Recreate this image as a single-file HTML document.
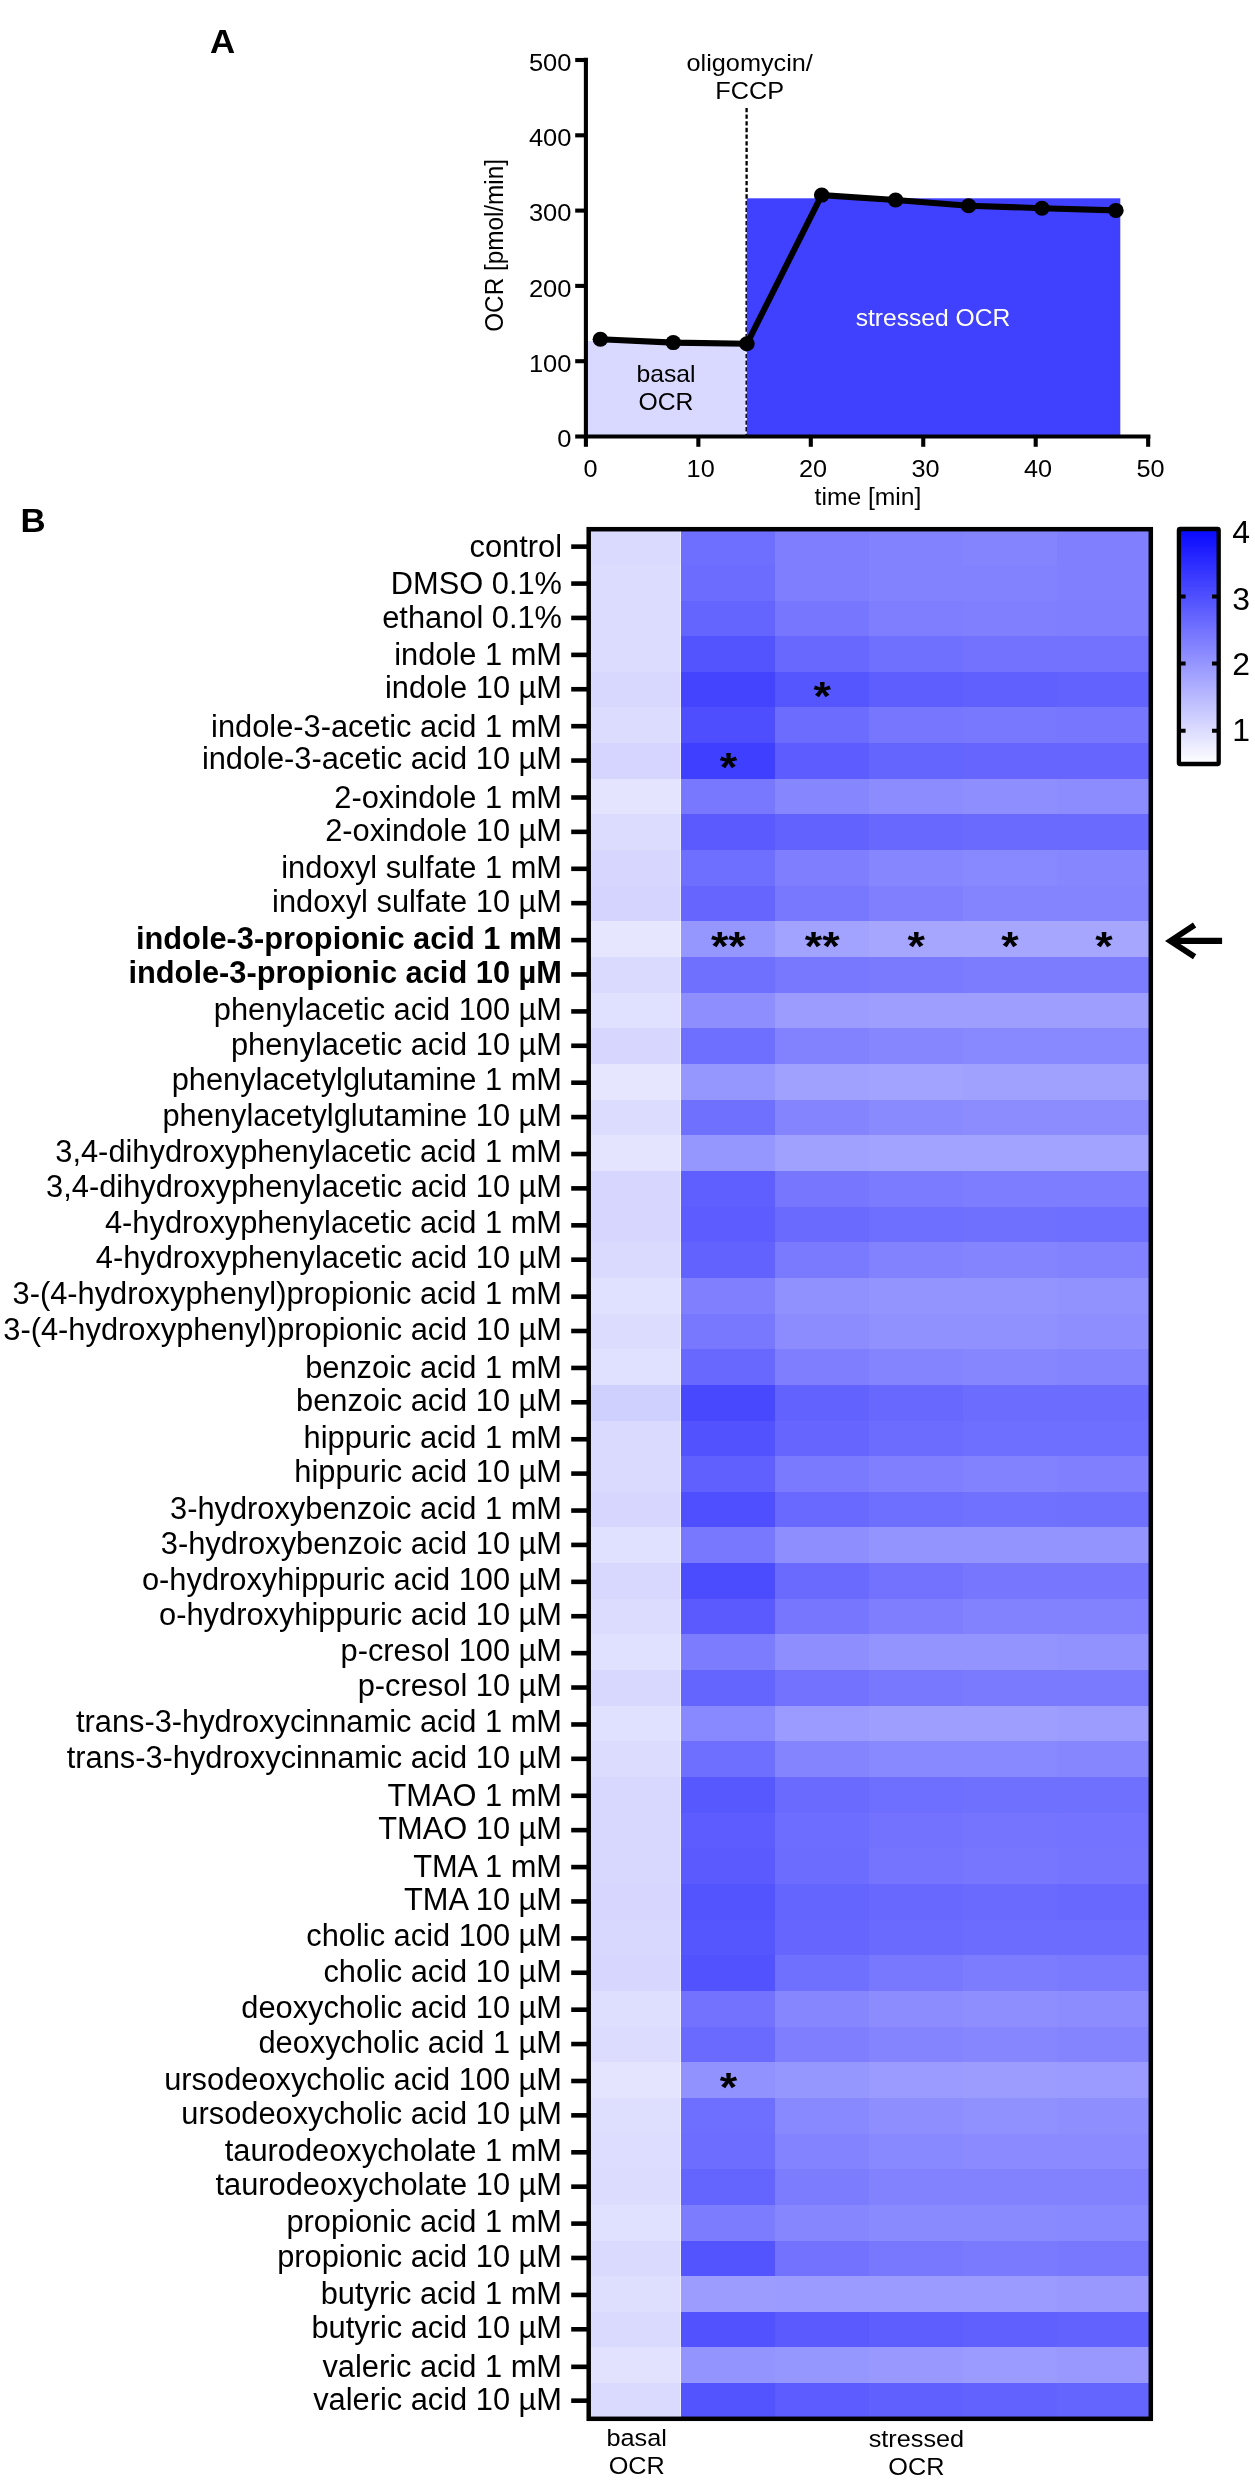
<!DOCTYPE html>
<html lang="en"><head><meta charset="utf-8"><title>Figure</title>
<style>html,body{margin:0;padding:0;background:#fff}svg{display:block;will-change:transform}text{font-family:"Liberation Sans",Arial,Helvetica,sans-serif;fill:#000}.b{font-weight:bold}.lab{font-size:30.8px;text-anchor:end}.ax{font-size:24px}.m{text-anchor:middle}.star{font-size:40px;font-weight:bold;text-anchor:middle}</style></head><body>
<svg width="1255" height="2480" viewBox="0 0 1255 2480">
<rect width="1255" height="2480" fill="#fff"/>
<g id="panelA">
<text transform="translate(209.9 52.9) scale(1.04 1)" font-size="33.5" class="b">A</text>
<rect x="585.9" y="341" width="159.4" height="95.5" fill="#d9d9ff"/>
<line x1="746.6" y1="107.9" x2="746.6" y2="436" stroke="#000" stroke-width="2.3" stroke-dasharray="4.3 2.35"/>
<rect x="746.8" y="198.3" width="373.5" height="238.2" fill="#4040ff"/>
<path d="M585.9 57.8V436.5H1150.4" fill="none" stroke="#000" stroke-width="4.1" stroke-linecap="butt" stroke-linejoin="miter"/>
<line x1="575.2" y1="436.5" x2="585.9" y2="436.5" stroke="#000" stroke-width="4.1"/>
<text transform="translate(571.4 447.2) scale(1.04 1)" font-size="24.5" text-anchor="end">0</text>
<line x1="575.2" y1="361.2" x2="585.9" y2="361.2" stroke="#000" stroke-width="4.1"/>
<text transform="translate(571.4 371.9) scale(1.04 1)" font-size="24.5" text-anchor="end">100</text>
<line x1="575.2" y1="285.9" x2="585.9" y2="285.9" stroke="#000" stroke-width="4.1"/>
<text transform="translate(571.4 296.6) scale(1.04 1)" font-size="24.5" text-anchor="end">200</text>
<line x1="575.2" y1="210.6" x2="585.9" y2="210.6" stroke="#000" stroke-width="4.1"/>
<text transform="translate(571.4 221.3) scale(1.04 1)" font-size="24.5" text-anchor="end">300</text>
<line x1="575.2" y1="135.3" x2="585.9" y2="135.3" stroke="#000" stroke-width="4.1"/>
<text transform="translate(571.4 146) scale(1.04 1)" font-size="24.5" text-anchor="end">400</text>
<line x1="575.2" y1="60" x2="585.9" y2="60" stroke="#000" stroke-width="4.1"/>
<text transform="translate(571.4 70.7) scale(1.04 1)" font-size="24.5" text-anchor="end">500</text>
<line x1="585.9" y1="436.5" x2="585.9" y2="446.8" stroke="#000" stroke-width="4.1"/>
<text transform="translate(590.5 477) scale(1.04 1)" font-size="24.3" text-anchor="middle">0</text>
<line x1="698.35" y1="436.5" x2="698.35" y2="446.8" stroke="#000" stroke-width="4.1"/>
<text transform="translate(700.65 477) scale(1.04 1)" font-size="24.3" text-anchor="middle">10</text>
<line x1="810.8" y1="436.5" x2="810.8" y2="446.8" stroke="#000" stroke-width="4.1"/>
<text transform="translate(813.1 477) scale(1.04 1)" font-size="24.3" text-anchor="middle">20</text>
<line x1="923.25" y1="436.5" x2="923.25" y2="446.8" stroke="#000" stroke-width="4.1"/>
<text transform="translate(925.55 477) scale(1.04 1)" font-size="24.3" text-anchor="middle">30</text>
<line x1="1035.7" y1="436.5" x2="1035.7" y2="446.8" stroke="#000" stroke-width="4.1"/>
<text transform="translate(1038 477) scale(1.04 1)" font-size="24.3" text-anchor="middle">40</text>
<line x1="1148.15" y1="436.5" x2="1148.15" y2="446.8" stroke="#000" stroke-width="4.1"/>
<text transform="translate(1150.45 477) scale(1.04 1)" font-size="24.3" text-anchor="middle">50</text>
<text transform="translate(868 505) scale(1.015 1)" font-size="24.3" text-anchor="middle">time [min]</text>
<text transform="translate(503 245.4) scale(1.04 1) rotate(-90)" font-size="24.3" text-anchor="middle">OCR [pmol/min]</text>
<polyline points="600.4,339.3 673.3,342.6 746.9,343.8 821.7,195.1 895.6,200 968.6,205.7 1041.9,208.2 1115.9,210.4" fill="none" stroke="#000" stroke-width="6.1" stroke-linejoin="round"/>
<ellipse cx="600.4" cy="339.3" rx="7.8" ry="7.5"/>
<ellipse cx="673.3" cy="342.6" rx="7.8" ry="7.5"/>
<ellipse cx="746.9" cy="343.8" rx="7.8" ry="7.5"/>
<ellipse cx="821.7" cy="195.1" rx="7.8" ry="7.5"/>
<ellipse cx="895.6" cy="200" rx="7.8" ry="7.5"/>
<ellipse cx="968.6" cy="205.7" rx="7.8" ry="7.5"/>
<ellipse cx="1041.9" cy="208.2" rx="7.8" ry="7.5"/>
<ellipse cx="1115.9" cy="210.4" rx="7.8" ry="7.5"/>
<text transform="translate(749.7 70.7) scale(1.04 1)" font-size="24.3" text-anchor="middle">oligomycin/</text>
<text transform="translate(749.7 98.5) scale(1.04 1)" font-size="24.3" text-anchor="middle">FCCP</text>
<text transform="translate(666 382) scale(1.04 1)" font-size="23.8" text-anchor="middle">basal</text>
<text transform="translate(666 409.5) scale(1.04 1)" font-size="23.8" text-anchor="middle">OCR</text>
<text transform="translate(933 325.5) scale(1.04 1)" font-size="23.7" text-anchor="middle" style="fill:#fff">stressed OCR</text>
</g>
<g id="panelB">
<text transform="translate(20.4 531.8) scale(1.04 1)" font-size="33.5" class="b">B</text>
<g shape-rendering="crispEdges">
<rect x="587.3" y="529.2" width="94.4" height="36.15" fill="rgb(218,218,255)"/>
<rect x="681.2" y="529.2" width="94.4" height="36.15" fill="rgb(110,110,255)"/>
<rect x="775.1" y="529.2" width="94.4" height="36.15" fill="rgb(126,126,255)"/>
<rect x="869" y="529.2" width="94.4" height="36.15" fill="rgb(130,130,255)"/>
<rect x="962.9" y="529.2" width="94.4" height="36.15" fill="rgb(132,132,255)"/>
<rect x="1056.8" y="529.2" width="94.4" height="36.15" fill="rgb(128,128,255)"/>
<rect x="587.3" y="564.85" width="94.4" height="36.15" fill="rgb(220,220,255)"/>
<rect x="681.2" y="564.85" width="94.4" height="36.15" fill="rgb(108,108,255)"/>
<rect x="775.1" y="564.85" width="94.4" height="36.15" fill="rgb(126,126,255)"/>
<rect x="869" y="564.85" width="94.4" height="36.15" fill="rgb(130,130,255)"/>
<rect x="962.9" y="564.85" width="94.4" height="36.15" fill="rgb(130,130,255)"/>
<rect x="1056.8" y="564.85" width="94.4" height="36.15" fill="rgb(128,128,255)"/>
<rect x="587.3" y="600.51" width="94.4" height="36.15" fill="rgb(220,220,255)"/>
<rect x="681.2" y="600.51" width="94.4" height="36.15" fill="rgb(100,100,255)"/>
<rect x="775.1" y="600.51" width="94.4" height="36.15" fill="rgb(118,118,255)"/>
<rect x="869" y="600.51" width="94.4" height="36.15" fill="rgb(126,126,255)"/>
<rect x="962.9" y="600.51" width="94.4" height="36.15" fill="rgb(128,128,255)"/>
<rect x="1056.8" y="600.51" width="94.4" height="36.15" fill="rgb(126,126,255)"/>
<rect x="587.3" y="636.16" width="94.4" height="36.15" fill="rgb(220,220,255)"/>
<rect x="681.2" y="636.16" width="94.4" height="36.15" fill="rgb(84,84,255)"/>
<rect x="775.1" y="636.16" width="94.4" height="36.15" fill="rgb(104,104,255)"/>
<rect x="869" y="636.16" width="94.4" height="36.15" fill="rgb(112,112,255)"/>
<rect x="962.9" y="636.16" width="94.4" height="36.15" fill="rgb(114,114,255)"/>
<rect x="1056.8" y="636.16" width="94.4" height="36.15" fill="rgb(114,114,255)"/>
<rect x="587.3" y="671.81" width="94.4" height="36.15" fill="rgb(216,216,255)"/>
<rect x="681.2" y="671.81" width="94.4" height="36.15" fill="rgb(68,68,255)"/>
<rect x="775.1" y="671.81" width="94.4" height="36.15" fill="rgb(86,86,255)"/>
<rect x="869" y="671.81" width="94.4" height="36.15" fill="rgb(94,94,255)"/>
<rect x="962.9" y="671.81" width="94.4" height="36.15" fill="rgb(96,96,255)"/>
<rect x="1056.8" y="671.81" width="94.4" height="36.15" fill="rgb(98,98,255)"/>
<rect x="587.3" y="707.46" width="94.4" height="36.15" fill="rgb(220,220,255)"/>
<rect x="681.2" y="707.46" width="94.4" height="36.15" fill="rgb(78,78,255)"/>
<rect x="775.1" y="707.46" width="94.4" height="36.15" fill="rgb(108,108,255)"/>
<rect x="869" y="707.46" width="94.4" height="36.15" fill="rgb(118,118,255)"/>
<rect x="962.9" y="707.46" width="94.4" height="36.15" fill="rgb(120,120,255)"/>
<rect x="1056.8" y="707.46" width="94.4" height="36.15" fill="rgb(118,118,255)"/>
<rect x="587.3" y="743.12" width="94.4" height="36.15" fill="rgb(213,213,255)"/>
<rect x="681.2" y="743.12" width="94.4" height="36.15" fill="rgb(63,63,255)"/>
<rect x="775.1" y="743.12" width="94.4" height="36.15" fill="rgb(92,92,255)"/>
<rect x="869" y="743.12" width="94.4" height="36.15" fill="rgb(100,100,255)"/>
<rect x="962.9" y="743.12" width="94.4" height="36.15" fill="rgb(102,102,255)"/>
<rect x="1056.8" y="743.12" width="94.4" height="36.15" fill="rgb(102,102,255)"/>
<rect x="587.3" y="778.77" width="94.4" height="36.15" fill="rgb(228,228,255)"/>
<rect x="681.2" y="778.77" width="94.4" height="36.15" fill="rgb(120,120,255)"/>
<rect x="775.1" y="778.77" width="94.4" height="36.15" fill="rgb(134,134,255)"/>
<rect x="869" y="778.77" width="94.4" height="36.15" fill="rgb(140,140,255)"/>
<rect x="962.9" y="778.77" width="94.4" height="36.15" fill="rgb(142,142,255)"/>
<rect x="1056.8" y="778.77" width="94.4" height="36.15" fill="rgb(140,140,255)"/>
<rect x="587.3" y="814.42" width="94.4" height="36.15" fill="rgb(220,220,255)"/>
<rect x="681.2" y="814.42" width="94.4" height="36.15" fill="rgb(90,90,255)"/>
<rect x="775.1" y="814.42" width="94.4" height="36.15" fill="rgb(98,98,255)"/>
<rect x="869" y="814.42" width="94.4" height="36.15" fill="rgb(104,104,255)"/>
<rect x="962.9" y="814.42" width="94.4" height="36.15" fill="rgb(106,106,255)"/>
<rect x="1056.8" y="814.42" width="94.4" height="36.15" fill="rgb(106,106,255)"/>
<rect x="587.3" y="850.08" width="94.4" height="36.15" fill="rgb(214,214,255)"/>
<rect x="681.2" y="850.08" width="94.4" height="36.15" fill="rgb(110,110,255)"/>
<rect x="775.1" y="850.08" width="94.4" height="36.15" fill="rgb(126,126,255)"/>
<rect x="869" y="850.08" width="94.4" height="36.15" fill="rgb(134,134,255)"/>
<rect x="962.9" y="850.08" width="94.4" height="36.15" fill="rgb(136,136,255)"/>
<rect x="1056.8" y="850.08" width="94.4" height="36.15" fill="rgb(134,134,255)"/>
<rect x="587.3" y="885.73" width="94.4" height="36.15" fill="rgb(212,212,255)"/>
<rect x="681.2" y="885.73" width="94.4" height="36.15" fill="rgb(102,102,255)"/>
<rect x="775.1" y="885.73" width="94.4" height="36.15" fill="rgb(120,120,255)"/>
<rect x="869" y="885.73" width="94.4" height="36.15" fill="rgb(128,128,255)"/>
<rect x="962.9" y="885.73" width="94.4" height="36.15" fill="rgb(132,132,255)"/>
<rect x="1056.8" y="885.73" width="94.4" height="36.15" fill="rgb(132,132,255)"/>
<rect x="587.3" y="921.38" width="94.4" height="36.15" fill="rgb(230,230,255)"/>
<rect x="681.2" y="921.38" width="94.4" height="36.15" fill="rgb(150,150,255)"/>
<rect x="775.1" y="921.38" width="94.4" height="36.15" fill="rgb(162,162,255)"/>
<rect x="869" y="921.38" width="94.4" height="36.15" fill="rgb(166,166,255)"/>
<rect x="962.9" y="921.38" width="94.4" height="36.15" fill="rgb(166,166,255)"/>
<rect x="1056.8" y="921.38" width="94.4" height="36.15" fill="rgb(166,166,255)"/>
<rect x="587.3" y="957.03" width="94.4" height="36.15" fill="rgb(218,218,255)"/>
<rect x="681.2" y="957.03" width="94.4" height="36.15" fill="rgb(112,112,255)"/>
<rect x="775.1" y="957.03" width="94.4" height="36.15" fill="rgb(120,120,255)"/>
<rect x="869" y="957.03" width="94.4" height="36.15" fill="rgb(122,122,255)"/>
<rect x="962.9" y="957.03" width="94.4" height="36.15" fill="rgb(124,124,255)"/>
<rect x="1056.8" y="957.03" width="94.4" height="36.15" fill="rgb(124,124,255)"/>
<rect x="587.3" y="992.69" width="94.4" height="36.15" fill="rgb(224,224,255)"/>
<rect x="681.2" y="992.69" width="94.4" height="36.15" fill="rgb(142,142,255)"/>
<rect x="775.1" y="992.69" width="94.4" height="36.15" fill="rgb(156,156,255)"/>
<rect x="869" y="992.69" width="94.4" height="36.15" fill="rgb(158,158,255)"/>
<rect x="962.9" y="992.69" width="94.4" height="36.15" fill="rgb(158,158,255)"/>
<rect x="1056.8" y="992.69" width="94.4" height="36.15" fill="rgb(158,158,255)"/>
<rect x="587.3" y="1028.34" width="94.4" height="36.15" fill="rgb(214,214,255)"/>
<rect x="681.2" y="1028.34" width="94.4" height="36.15" fill="rgb(110,110,255)"/>
<rect x="775.1" y="1028.34" width="94.4" height="36.15" fill="rgb(130,130,255)"/>
<rect x="869" y="1028.34" width="94.4" height="36.15" fill="rgb(134,134,255)"/>
<rect x="962.9" y="1028.34" width="94.4" height="36.15" fill="rgb(136,136,255)"/>
<rect x="1056.8" y="1028.34" width="94.4" height="36.15" fill="rgb(136,136,255)"/>
<rect x="587.3" y="1063.99" width="94.4" height="36.15" fill="rgb(230,230,255)"/>
<rect x="681.2" y="1063.99" width="94.4" height="36.15" fill="rgb(150,150,255)"/>
<rect x="775.1" y="1063.99" width="94.4" height="36.15" fill="rgb(160,160,255)"/>
<rect x="869" y="1063.99" width="94.4" height="36.15" fill="rgb(162,162,255)"/>
<rect x="962.9" y="1063.99" width="94.4" height="36.15" fill="rgb(160,160,255)"/>
<rect x="1056.8" y="1063.99" width="94.4" height="36.15" fill="rgb(160,160,255)"/>
<rect x="587.3" y="1099.65" width="94.4" height="36.15" fill="rgb(220,220,255)"/>
<rect x="681.2" y="1099.65" width="94.4" height="36.15" fill="rgb(112,112,255)"/>
<rect x="775.1" y="1099.65" width="94.4" height="36.15" fill="rgb(132,132,255)"/>
<rect x="869" y="1099.65" width="94.4" height="36.15" fill="rgb(138,138,255)"/>
<rect x="962.9" y="1099.65" width="94.4" height="36.15" fill="rgb(140,140,255)"/>
<rect x="1056.8" y="1099.65" width="94.4" height="36.15" fill="rgb(140,140,255)"/>
<rect x="587.3" y="1135.3" width="94.4" height="36.15" fill="rgb(228,228,255)"/>
<rect x="681.2" y="1135.3" width="94.4" height="36.15" fill="rgb(150,150,255)"/>
<rect x="775.1" y="1135.3" width="94.4" height="36.15" fill="rgb(160,160,255)"/>
<rect x="869" y="1135.3" width="94.4" height="36.15" fill="rgb(162,162,255)"/>
<rect x="962.9" y="1135.3" width="94.4" height="36.15" fill="rgb(162,162,255)"/>
<rect x="1056.8" y="1135.3" width="94.4" height="36.15" fill="rgb(162,162,255)"/>
<rect x="587.3" y="1170.95" width="94.4" height="36.15" fill="rgb(214,214,255)"/>
<rect x="681.2" y="1170.95" width="94.4" height="36.15" fill="rgb(95,95,255)"/>
<rect x="775.1" y="1170.95" width="94.4" height="36.15" fill="rgb(118,118,255)"/>
<rect x="869" y="1170.95" width="94.4" height="36.15" fill="rgb(123,123,255)"/>
<rect x="962.9" y="1170.95" width="94.4" height="36.15" fill="rgb(125,125,255)"/>
<rect x="1056.8" y="1170.95" width="94.4" height="36.15" fill="rgb(125,125,255)"/>
<rect x="587.3" y="1206.6" width="94.4" height="36.15" fill="rgb(214,214,255)"/>
<rect x="681.2" y="1206.6" width="94.4" height="36.15" fill="rgb(92,92,255)"/>
<rect x="775.1" y="1206.6" width="94.4" height="36.15" fill="rgb(106,106,255)"/>
<rect x="869" y="1206.6" width="94.4" height="36.15" fill="rgb(110,110,255)"/>
<rect x="962.9" y="1206.6" width="94.4" height="36.15" fill="rgb(112,112,255)"/>
<rect x="1056.8" y="1206.6" width="94.4" height="36.15" fill="rgb(110,110,255)"/>
<rect x="587.3" y="1242.26" width="94.4" height="36.15" fill="rgb(218,218,255)"/>
<rect x="681.2" y="1242.26" width="94.4" height="36.15" fill="rgb(98,98,255)"/>
<rect x="775.1" y="1242.26" width="94.4" height="36.15" fill="rgb(122,122,255)"/>
<rect x="869" y="1242.26" width="94.4" height="36.15" fill="rgb(130,130,255)"/>
<rect x="962.9" y="1242.26" width="94.4" height="36.15" fill="rgb(132,132,255)"/>
<rect x="1056.8" y="1242.26" width="94.4" height="36.15" fill="rgb(130,130,255)"/>
<rect x="587.3" y="1277.91" width="94.4" height="36.15" fill="rgb(224,224,255)"/>
<rect x="681.2" y="1277.91" width="94.4" height="36.15" fill="rgb(128,128,255)"/>
<rect x="775.1" y="1277.91" width="94.4" height="36.15" fill="rgb(144,144,255)"/>
<rect x="869" y="1277.91" width="94.4" height="36.15" fill="rgb(148,148,255)"/>
<rect x="962.9" y="1277.91" width="94.4" height="36.15" fill="rgb(148,148,255)"/>
<rect x="1056.8" y="1277.91" width="94.4" height="36.15" fill="rgb(146,146,255)"/>
<rect x="587.3" y="1313.56" width="94.4" height="36.15" fill="rgb(220,220,255)"/>
<rect x="681.2" y="1313.56" width="94.4" height="36.15" fill="rgb(120,120,255)"/>
<rect x="775.1" y="1313.56" width="94.4" height="36.15" fill="rgb(140,140,255)"/>
<rect x="869" y="1313.56" width="94.4" height="36.15" fill="rgb(144,144,255)"/>
<rect x="962.9" y="1313.56" width="94.4" height="36.15" fill="rgb(144,144,255)"/>
<rect x="1056.8" y="1313.56" width="94.4" height="36.15" fill="rgb(142,142,255)"/>
<rect x="587.3" y="1349.22" width="94.4" height="36.15" fill="rgb(224,224,255)"/>
<rect x="681.2" y="1349.22" width="94.4" height="36.15" fill="rgb(104,104,255)"/>
<rect x="775.1" y="1349.22" width="94.4" height="36.15" fill="rgb(126,126,255)"/>
<rect x="869" y="1349.22" width="94.4" height="36.15" fill="rgb(132,132,255)"/>
<rect x="962.9" y="1349.22" width="94.4" height="36.15" fill="rgb(134,134,255)"/>
<rect x="1056.8" y="1349.22" width="94.4" height="36.15" fill="rgb(132,132,255)"/>
<rect x="587.3" y="1384.87" width="94.4" height="36.15" fill="rgb(208,208,255)"/>
<rect x="681.2" y="1384.87" width="94.4" height="36.15" fill="rgb(72,72,255)"/>
<rect x="775.1" y="1384.87" width="94.4" height="36.15" fill="rgb(98,98,255)"/>
<rect x="869" y="1384.87" width="94.4" height="36.15" fill="rgb(104,104,255)"/>
<rect x="962.9" y="1384.87" width="94.4" height="36.15" fill="rgb(108,108,255)"/>
<rect x="1056.8" y="1384.87" width="94.4" height="36.15" fill="rgb(108,108,255)"/>
<rect x="587.3" y="1420.52" width="94.4" height="36.15" fill="rgb(218,218,255)"/>
<rect x="681.2" y="1420.52" width="94.4" height="36.15" fill="rgb(82,82,255)"/>
<rect x="775.1" y="1420.52" width="94.4" height="36.15" fill="rgb(102,102,255)"/>
<rect x="869" y="1420.52" width="94.4" height="36.15" fill="rgb(108,108,255)"/>
<rect x="962.9" y="1420.52" width="94.4" height="36.15" fill="rgb(110,110,255)"/>
<rect x="1056.8" y="1420.52" width="94.4" height="36.15" fill="rgb(110,110,255)"/>
<rect x="587.3" y="1456.17" width="94.4" height="36.15" fill="rgb(218,218,255)"/>
<rect x="681.2" y="1456.17" width="94.4" height="36.15" fill="rgb(96,96,255)"/>
<rect x="775.1" y="1456.17" width="94.4" height="36.15" fill="rgb(122,122,255)"/>
<rect x="869" y="1456.17" width="94.4" height="36.15" fill="rgb(128,128,255)"/>
<rect x="962.9" y="1456.17" width="94.4" height="36.15" fill="rgb(130,130,255)"/>
<rect x="1056.8" y="1456.17" width="94.4" height="36.15" fill="rgb(128,128,255)"/>
<rect x="587.3" y="1491.83" width="94.4" height="36.15" fill="rgb(214,214,255)"/>
<rect x="681.2" y="1491.83" width="94.4" height="36.15" fill="rgb(79,79,255)"/>
<rect x="775.1" y="1491.83" width="94.4" height="36.15" fill="rgb(105,105,255)"/>
<rect x="869" y="1491.83" width="94.4" height="36.15" fill="rgb(111,111,255)"/>
<rect x="962.9" y="1491.83" width="94.4" height="36.15" fill="rgb(113,113,255)"/>
<rect x="1056.8" y="1491.83" width="94.4" height="36.15" fill="rgb(112,112,255)"/>
<rect x="587.3" y="1527.48" width="94.4" height="36.15" fill="rgb(224,224,255)"/>
<rect x="681.2" y="1527.48" width="94.4" height="36.15" fill="rgb(120,120,255)"/>
<rect x="775.1" y="1527.48" width="94.4" height="36.15" fill="rgb(142,142,255)"/>
<rect x="869" y="1527.48" width="94.4" height="36.15" fill="rgb(148,148,255)"/>
<rect x="962.9" y="1527.48" width="94.4" height="36.15" fill="rgb(148,148,255)"/>
<rect x="1056.8" y="1527.48" width="94.4" height="36.15" fill="rgb(148,148,255)"/>
<rect x="587.3" y="1563.13" width="94.4" height="36.15" fill="rgb(216,216,255)"/>
<rect x="681.2" y="1563.13" width="94.4" height="36.15" fill="rgb(76,76,255)"/>
<rect x="775.1" y="1563.13" width="94.4" height="36.15" fill="rgb(106,106,255)"/>
<rect x="869" y="1563.13" width="94.4" height="36.15" fill="rgb(114,114,255)"/>
<rect x="962.9" y="1563.13" width="94.4" height="36.15" fill="rgb(118,118,255)"/>
<rect x="1056.8" y="1563.13" width="94.4" height="36.15" fill="rgb(118,118,255)"/>
<rect x="587.3" y="1598.78" width="94.4" height="36.15" fill="rgb(220,220,255)"/>
<rect x="681.2" y="1598.78" width="94.4" height="36.15" fill="rgb(90,90,255)"/>
<rect x="775.1" y="1598.78" width="94.4" height="36.15" fill="rgb(118,118,255)"/>
<rect x="869" y="1598.78" width="94.4" height="36.15" fill="rgb(126,126,255)"/>
<rect x="962.9" y="1598.78" width="94.4" height="36.15" fill="rgb(130,130,255)"/>
<rect x="1056.8" y="1598.78" width="94.4" height="36.15" fill="rgb(130,130,255)"/>
<rect x="587.3" y="1634.44" width="94.4" height="36.15" fill="rgb(224,224,255)"/>
<rect x="681.2" y="1634.44" width="94.4" height="36.15" fill="rgb(124,124,255)"/>
<rect x="775.1" y="1634.44" width="94.4" height="36.15" fill="rgb(142,142,255)"/>
<rect x="869" y="1634.44" width="94.4" height="36.15" fill="rgb(148,148,255)"/>
<rect x="962.9" y="1634.44" width="94.4" height="36.15" fill="rgb(148,148,255)"/>
<rect x="1056.8" y="1634.44" width="94.4" height="36.15" fill="rgb(146,146,255)"/>
<rect x="587.3" y="1670.09" width="94.4" height="36.15" fill="rgb(216,216,255)"/>
<rect x="681.2" y="1670.09" width="94.4" height="36.15" fill="rgb(100,100,255)"/>
<rect x="775.1" y="1670.09" width="94.4" height="36.15" fill="rgb(114,114,255)"/>
<rect x="869" y="1670.09" width="94.4" height="36.15" fill="rgb(120,120,255)"/>
<rect x="962.9" y="1670.09" width="94.4" height="36.15" fill="rgb(122,122,255)"/>
<rect x="1056.8" y="1670.09" width="94.4" height="36.15" fill="rgb(122,122,255)"/>
<rect x="587.3" y="1705.74" width="94.4" height="36.15" fill="rgb(224,224,255)"/>
<rect x="681.2" y="1705.74" width="94.4" height="36.15" fill="rgb(136,136,255)"/>
<rect x="775.1" y="1705.74" width="94.4" height="36.15" fill="rgb(154,154,255)"/>
<rect x="869" y="1705.74" width="94.4" height="36.15" fill="rgb(158,158,255)"/>
<rect x="962.9" y="1705.74" width="94.4" height="36.15" fill="rgb(158,158,255)"/>
<rect x="1056.8" y="1705.74" width="94.4" height="36.15" fill="rgb(156,156,255)"/>
<rect x="587.3" y="1741.4" width="94.4" height="36.15" fill="rgb(220,220,255)"/>
<rect x="681.2" y="1741.4" width="94.4" height="36.15" fill="rgb(110,110,255)"/>
<rect x="775.1" y="1741.4" width="94.4" height="36.15" fill="rgb(132,132,255)"/>
<rect x="869" y="1741.4" width="94.4" height="36.15" fill="rgb(136,136,255)"/>
<rect x="962.9" y="1741.4" width="94.4" height="36.15" fill="rgb(136,136,255)"/>
<rect x="1056.8" y="1741.4" width="94.4" height="36.15" fill="rgb(134,134,255)"/>
<rect x="587.3" y="1777.05" width="94.4" height="36.15" fill="rgb(216,216,255)"/>
<rect x="681.2" y="1777.05" width="94.4" height="36.15" fill="rgb(88,88,255)"/>
<rect x="775.1" y="1777.05" width="94.4" height="36.15" fill="rgb(106,106,255)"/>
<rect x="869" y="1777.05" width="94.4" height="36.15" fill="rgb(110,110,255)"/>
<rect x="962.9" y="1777.05" width="94.4" height="36.15" fill="rgb(112,112,255)"/>
<rect x="1056.8" y="1777.05" width="94.4" height="36.15" fill="rgb(112,112,255)"/>
<rect x="587.3" y="1812.7" width="94.4" height="36.15" fill="rgb(216,216,255)"/>
<rect x="681.2" y="1812.7" width="94.4" height="36.15" fill="rgb(93,93,255)"/>
<rect x="775.1" y="1812.7" width="94.4" height="36.15" fill="rgb(109,109,255)"/>
<rect x="869" y="1812.7" width="94.4" height="36.15" fill="rgb(114,114,255)"/>
<rect x="962.9" y="1812.7" width="94.4" height="36.15" fill="rgb(116,116,255)"/>
<rect x="1056.8" y="1812.7" width="94.4" height="36.15" fill="rgb(115,115,255)"/>
<rect x="587.3" y="1848.35" width="94.4" height="36.15" fill="rgb(216,216,255)"/>
<rect x="681.2" y="1848.35" width="94.4" height="36.15" fill="rgb(90,90,255)"/>
<rect x="775.1" y="1848.35" width="94.4" height="36.15" fill="rgb(108,108,255)"/>
<rect x="869" y="1848.35" width="94.4" height="36.15" fill="rgb(116,116,255)"/>
<rect x="962.9" y="1848.35" width="94.4" height="36.15" fill="rgb(118,118,255)"/>
<rect x="1056.8" y="1848.35" width="94.4" height="36.15" fill="rgb(116,116,255)"/>
<rect x="587.3" y="1884.01" width="94.4" height="36.15" fill="rgb(214,214,255)"/>
<rect x="681.2" y="1884.01" width="94.4" height="36.15" fill="rgb(84,84,255)"/>
<rect x="775.1" y="1884.01" width="94.4" height="36.15" fill="rgb(100,100,255)"/>
<rect x="869" y="1884.01" width="94.4" height="36.15" fill="rgb(104,104,255)"/>
<rect x="962.9" y="1884.01" width="94.4" height="36.15" fill="rgb(106,106,255)"/>
<rect x="1056.8" y="1884.01" width="94.4" height="36.15" fill="rgb(104,104,255)"/>
<rect x="587.3" y="1919.66" width="94.4" height="36.15" fill="rgb(216,216,255)"/>
<rect x="681.2" y="1919.66" width="94.4" height="36.15" fill="rgb(86,86,255)"/>
<rect x="775.1" y="1919.66" width="94.4" height="36.15" fill="rgb(102,102,255)"/>
<rect x="869" y="1919.66" width="94.4" height="36.15" fill="rgb(106,106,255)"/>
<rect x="962.9" y="1919.66" width="94.4" height="36.15" fill="rgb(108,108,255)"/>
<rect x="1056.8" y="1919.66" width="94.4" height="36.15" fill="rgb(108,108,255)"/>
<rect x="587.3" y="1955.31" width="94.4" height="36.15" fill="rgb(214,214,255)"/>
<rect x="681.2" y="1955.31" width="94.4" height="36.15" fill="rgb(82,82,255)"/>
<rect x="775.1" y="1955.31" width="94.4" height="36.15" fill="rgb(112,112,255)"/>
<rect x="869" y="1955.31" width="94.4" height="36.15" fill="rgb(120,120,255)"/>
<rect x="962.9" y="1955.31" width="94.4" height="36.15" fill="rgb(124,124,255)"/>
<rect x="1056.8" y="1955.31" width="94.4" height="36.15" fill="rgb(122,122,255)"/>
<rect x="587.3" y="1990.97" width="94.4" height="36.15" fill="rgb(222,222,255)"/>
<rect x="681.2" y="1990.97" width="94.4" height="36.15" fill="rgb(114,114,255)"/>
<rect x="775.1" y="1990.97" width="94.4" height="36.15" fill="rgb(134,134,255)"/>
<rect x="869" y="1990.97" width="94.4" height="36.15" fill="rgb(140,140,255)"/>
<rect x="962.9" y="1990.97" width="94.4" height="36.15" fill="rgb(142,142,255)"/>
<rect x="1056.8" y="1990.97" width="94.4" height="36.15" fill="rgb(140,140,255)"/>
<rect x="587.3" y="2026.62" width="94.4" height="36.15" fill="rgb(220,220,255)"/>
<rect x="681.2" y="2026.62" width="94.4" height="36.15" fill="rgb(106,106,255)"/>
<rect x="775.1" y="2026.62" width="94.4" height="36.15" fill="rgb(126,126,255)"/>
<rect x="869" y="2026.62" width="94.4" height="36.15" fill="rgb(132,132,255)"/>
<rect x="962.9" y="2026.62" width="94.4" height="36.15" fill="rgb(134,134,255)"/>
<rect x="1056.8" y="2026.62" width="94.4" height="36.15" fill="rgb(132,132,255)"/>
<rect x="587.3" y="2062.27" width="94.4" height="36.15" fill="rgb(228,228,255)"/>
<rect x="681.2" y="2062.27" width="94.4" height="36.15" fill="rgb(146,146,255)"/>
<rect x="775.1" y="2062.27" width="94.4" height="36.15" fill="rgb(150,150,255)"/>
<rect x="869" y="2062.27" width="94.4" height="36.15" fill="rgb(154,154,255)"/>
<rect x="962.9" y="2062.27" width="94.4" height="36.15" fill="rgb(156,156,255)"/>
<rect x="1056.8" y="2062.27" width="94.4" height="36.15" fill="rgb(154,154,255)"/>
<rect x="587.3" y="2097.92" width="94.4" height="36.15" fill="rgb(222,222,255)"/>
<rect x="681.2" y="2097.92" width="94.4" height="36.15" fill="rgb(111,111,255)"/>
<rect x="775.1" y="2097.92" width="94.4" height="36.15" fill="rgb(136,136,255)"/>
<rect x="869" y="2097.92" width="94.4" height="36.15" fill="rgb(142,142,255)"/>
<rect x="962.9" y="2097.92" width="94.4" height="36.15" fill="rgb(144,144,255)"/>
<rect x="1056.8" y="2097.92" width="94.4" height="36.15" fill="rgb(142,142,255)"/>
<rect x="587.3" y="2133.58" width="94.4" height="36.15" fill="rgb(221,221,255)"/>
<rect x="681.2" y="2133.58" width="94.4" height="36.15" fill="rgb(109,109,255)"/>
<rect x="775.1" y="2133.58" width="94.4" height="36.15" fill="rgb(131,131,255)"/>
<rect x="869" y="2133.58" width="94.4" height="36.15" fill="rgb(137,137,255)"/>
<rect x="962.9" y="2133.58" width="94.4" height="36.15" fill="rgb(139,139,255)"/>
<rect x="1056.8" y="2133.58" width="94.4" height="36.15" fill="rgb(139,139,255)"/>
<rect x="587.3" y="2169.23" width="94.4" height="36.15" fill="rgb(220,220,255)"/>
<rect x="681.2" y="2169.23" width="94.4" height="36.15" fill="rgb(100,100,255)"/>
<rect x="775.1" y="2169.23" width="94.4" height="36.15" fill="rgb(124,124,255)"/>
<rect x="869" y="2169.23" width="94.4" height="36.15" fill="rgb(130,130,255)"/>
<rect x="962.9" y="2169.23" width="94.4" height="36.15" fill="rgb(130,130,255)"/>
<rect x="1056.8" y="2169.23" width="94.4" height="36.15" fill="rgb(130,130,255)"/>
<rect x="587.3" y="2204.88" width="94.4" height="36.15" fill="rgb(224,224,255)"/>
<rect x="681.2" y="2204.88" width="94.4" height="36.15" fill="rgb(124,124,255)"/>
<rect x="775.1" y="2204.88" width="94.4" height="36.15" fill="rgb(134,134,255)"/>
<rect x="869" y="2204.88" width="94.4" height="36.15" fill="rgb(138,138,255)"/>
<rect x="962.9" y="2204.88" width="94.4" height="36.15" fill="rgb(138,138,255)"/>
<rect x="1056.8" y="2204.88" width="94.4" height="36.15" fill="rgb(136,136,255)"/>
<rect x="587.3" y="2240.54" width="94.4" height="36.15" fill="rgb(218,218,255)"/>
<rect x="681.2" y="2240.54" width="94.4" height="36.15" fill="rgb(84,84,255)"/>
<rect x="775.1" y="2240.54" width="94.4" height="36.15" fill="rgb(114,114,255)"/>
<rect x="869" y="2240.54" width="94.4" height="36.15" fill="rgb(120,120,255)"/>
<rect x="962.9" y="2240.54" width="94.4" height="36.15" fill="rgb(122,122,255)"/>
<rect x="1056.8" y="2240.54" width="94.4" height="36.15" fill="rgb(120,120,255)"/>
<rect x="587.3" y="2276.19" width="94.4" height="36.15" fill="rgb(222,222,255)"/>
<rect x="681.2" y="2276.19" width="94.4" height="36.15" fill="rgb(156,156,255)"/>
<rect x="775.1" y="2276.19" width="94.4" height="36.15" fill="rgb(154,154,255)"/>
<rect x="869" y="2276.19" width="94.4" height="36.15" fill="rgb(154,154,255)"/>
<rect x="962.9" y="2276.19" width="94.4" height="36.15" fill="rgb(154,154,255)"/>
<rect x="1056.8" y="2276.19" width="94.4" height="36.15" fill="rgb(152,152,255)"/>
<rect x="587.3" y="2311.84" width="94.4" height="36.15" fill="rgb(218,218,255)"/>
<rect x="681.2" y="2311.84" width="94.4" height="36.15" fill="rgb(82,82,255)"/>
<rect x="775.1" y="2311.84" width="94.4" height="36.15" fill="rgb(90,90,255)"/>
<rect x="869" y="2311.84" width="94.4" height="36.15" fill="rgb(94,94,255)"/>
<rect x="962.9" y="2311.84" width="94.4" height="36.15" fill="rgb(96,96,255)"/>
<rect x="1056.8" y="2311.84" width="94.4" height="36.15" fill="rgb(98,98,255)"/>
<rect x="587.3" y="2347.49" width="94.4" height="36.15" fill="rgb(226,226,255)"/>
<rect x="681.2" y="2347.49" width="94.4" height="36.15" fill="rgb(148,148,255)"/>
<rect x="775.1" y="2347.49" width="94.4" height="36.15" fill="rgb(150,150,255)"/>
<rect x="869" y="2347.49" width="94.4" height="36.15" fill="rgb(152,152,255)"/>
<rect x="962.9" y="2347.49" width="94.4" height="36.15" fill="rgb(154,154,255)"/>
<rect x="1056.8" y="2347.49" width="94.4" height="36.15" fill="rgb(152,152,255)"/>
<rect x="587.3" y="2383.15" width="94.4" height="36.15" fill="rgb(218,218,255)"/>
<rect x="681.2" y="2383.15" width="94.4" height="36.15" fill="rgb(84,84,255)"/>
<rect x="775.1" y="2383.15" width="94.4" height="36.15" fill="rgb(92,92,255)"/>
<rect x="869" y="2383.15" width="94.4" height="36.15" fill="rgb(96,96,255)"/>
<rect x="962.9" y="2383.15" width="94.4" height="36.15" fill="rgb(98,98,255)"/>
<rect x="1056.8" y="2383.15" width="94.4" height="36.15" fill="rgb(100,100,255)"/>
<rect x="680.2" y="529.2" width="1" height="1889.6" fill="#fff" fill-opacity="0.45"/>
</g>
<rect x="588.7" y="529.2" width="562.1" height="1889.6" fill="none" stroke="#000" stroke-width="4.5"/>
<line x1="571.2" y1="546.63" x2="588.7" y2="546.63" stroke="#000" stroke-width="4.6"/>
<text class="lab" x="562" y="557.03">control</text>
<line x1="571.2" y1="583.58" x2="588.7" y2="583.58" stroke="#000" stroke-width="4.6"/>
<text class="lab" x="562" y="593.98">DMSO 0.1%</text>
<line x1="571.2" y1="617.93" x2="588.7" y2="617.93" stroke="#000" stroke-width="4.6"/>
<text class="lab" x="562" y="628.33">ethanol 0.1%</text>
<line x1="571.2" y1="654.88" x2="588.7" y2="654.88" stroke="#000" stroke-width="4.6"/>
<text class="lab" x="562" y="665.28">indole 1 mM</text>
<line x1="571.2" y1="689.24" x2="588.7" y2="689.24" stroke="#000" stroke-width="4.6"/>
<text class="lab" x="562" y="698.04">indole 10 µM</text>
<line x1="571.2" y1="726.19" x2="588.7" y2="726.19" stroke="#000" stroke-width="4.6"/>
<text class="lab" x="562" y="736.59">indole-3-acetic acid 1 mM</text>
<line x1="571.2" y1="760.54" x2="588.7" y2="760.54" stroke="#000" stroke-width="4.6"/>
<text class="lab" x="562" y="769.34">indole-3-acetic acid 10 µM</text>
<line x1="571.2" y1="797.5" x2="588.7" y2="797.5" stroke="#000" stroke-width="4.6"/>
<text class="lab" x="562" y="807.9">2-oxindole 1 mM</text>
<line x1="571.2" y1="831.85" x2="588.7" y2="831.85" stroke="#000" stroke-width="4.6"/>
<text class="lab" x="562" y="840.65">2-oxindole 10 µM</text>
<line x1="571.2" y1="868.8" x2="588.7" y2="868.8" stroke="#000" stroke-width="4.6"/>
<text class="lab" x="562" y="877.6">indoxyl sulfate 1 mM</text>
<line x1="571.2" y1="903.15" x2="588.7" y2="903.15" stroke="#000" stroke-width="4.6"/>
<text class="lab" x="562" y="911.95">indoxyl sulfate 10 µM</text>
<line x1="571.2" y1="940.11" x2="588.7" y2="940.11" stroke="#000" stroke-width="4.6"/>
<text class="lab b" x="562" y="948.91">indole-3-propionic acid 1 mM</text>
<line x1="571.2" y1="974.46" x2="588.7" y2="974.46" stroke="#000" stroke-width="4.6"/>
<text class="lab b" x="562" y="983.26">indole-3-propionic acid 10 µM</text>
<line x1="571.2" y1="1011.41" x2="588.7" y2="1011.41" stroke="#000" stroke-width="4.6"/>
<text class="lab" x="562" y="1020.21">phenylacetic acid 100 µM</text>
<line x1="571.2" y1="1045.77" x2="588.7" y2="1045.77" stroke="#000" stroke-width="4.6"/>
<text class="lab" x="562" y="1054.57">phenylacetic acid 10 µM</text>
<line x1="571.2" y1="1082.72" x2="588.7" y2="1082.72" stroke="#000" stroke-width="4.6"/>
<text class="lab" x="562" y="1090.22">phenylacetylglutamine 1 mM</text>
<line x1="571.2" y1="1117.07" x2="588.7" y2="1117.07" stroke="#000" stroke-width="4.6"/>
<text class="lab" x="562" y="1125.87">phenylacetylglutamine 10 µM</text>
<line x1="571.2" y1="1154.02" x2="588.7" y2="1154.02" stroke="#000" stroke-width="4.6"/>
<text class="lab" x="562" y="1161.52">3,4-dihydroxyphenylacetic acid 1 mM</text>
<line x1="571.2" y1="1188.38" x2="588.7" y2="1188.38" stroke="#000" stroke-width="4.6"/>
<text class="lab" x="562" y="1197.18">3,4-dihydroxyphenylacetic acid 10 µM</text>
<line x1="571.2" y1="1225.33" x2="588.7" y2="1225.33" stroke="#000" stroke-width="4.6"/>
<text class="lab" x="562" y="1232.83">4-hydroxyphenylacetic acid 1 mM</text>
<line x1="571.2" y1="1259.68" x2="588.7" y2="1259.68" stroke="#000" stroke-width="4.6"/>
<text class="lab" x="562" y="1268.48">4-hydroxyphenylacetic acid 10 µM</text>
<line x1="571.2" y1="1296.64" x2="588.7" y2="1296.64" stroke="#000" stroke-width="4.6"/>
<text class="lab" x="562" y="1304.14">3-(4-hydroxyphenyl)propionic acid 1 mM</text>
<line x1="571.2" y1="1330.99" x2="588.7" y2="1330.99" stroke="#000" stroke-width="4.6"/>
<text class="lab" x="562" y="1339.79">3-(4-hydroxyphenyl)propionic acid 10 µM</text>
<line x1="571.2" y1="1367.94" x2="588.7" y2="1367.94" stroke="#000" stroke-width="4.6"/>
<text class="lab" x="562" y="1378.34">benzoic acid 1 mM</text>
<line x1="571.2" y1="1402.29" x2="588.7" y2="1402.29" stroke="#000" stroke-width="4.6"/>
<text class="lab" x="562" y="1411.09">benzoic acid 10 µM</text>
<line x1="571.2" y1="1439.25" x2="588.7" y2="1439.25" stroke="#000" stroke-width="4.6"/>
<text class="lab" x="562" y="1448.05">hippuric acid 1 mM</text>
<line x1="571.2" y1="1473.6" x2="588.7" y2="1473.6" stroke="#000" stroke-width="4.6"/>
<text class="lab" x="562" y="1482.4">hippuric acid 10 µM</text>
<line x1="571.2" y1="1510.55" x2="588.7" y2="1510.55" stroke="#000" stroke-width="4.6"/>
<text class="lab" x="562" y="1519.35">3-hydroxybenzoic acid 1 mM</text>
<line x1="571.2" y1="1544.91" x2="588.7" y2="1544.91" stroke="#000" stroke-width="4.6"/>
<text class="lab" x="562" y="1553.71">3-hydroxybenzoic acid 10 µM</text>
<line x1="571.2" y1="1581.86" x2="588.7" y2="1581.86" stroke="#000" stroke-width="4.6"/>
<text class="lab" x="562" y="1589.86">o-hydroxyhippuric acid 100 µM</text>
<line x1="571.2" y1="1616.21" x2="588.7" y2="1616.21" stroke="#000" stroke-width="4.6"/>
<text class="lab" x="562" y="1625.01">o-hydroxyhippuric acid 10 µM</text>
<line x1="571.2" y1="1653.16" x2="588.7" y2="1653.16" stroke="#000" stroke-width="4.6"/>
<text class="lab" x="562" y="1661.16">p-cresol 100 µM</text>
<line x1="571.2" y1="1687.52" x2="588.7" y2="1687.52" stroke="#000" stroke-width="4.6"/>
<text class="lab" x="562" y="1696.32">p-cresol 10 µM</text>
<line x1="571.2" y1="1724.47" x2="588.7" y2="1724.47" stroke="#000" stroke-width="4.6"/>
<text class="lab" x="562" y="1732.47">trans-3-hydroxycinnamic acid 1 mM</text>
<line x1="571.2" y1="1758.82" x2="588.7" y2="1758.82" stroke="#000" stroke-width="4.6"/>
<text class="lab" x="562" y="1767.62">trans-3-hydroxycinnamic acid 10 µM</text>
<line x1="571.2" y1="1795.78" x2="588.7" y2="1795.78" stroke="#000" stroke-width="4.6"/>
<text class="lab" x="562" y="1806.18">TMAO 1 mM</text>
<line x1="571.2" y1="1830.13" x2="588.7" y2="1830.13" stroke="#000" stroke-width="4.6"/>
<text class="lab" x="562" y="1838.93">TMAO 10 µM</text>
<line x1="571.2" y1="1867.08" x2="588.7" y2="1867.08" stroke="#000" stroke-width="4.6"/>
<text class="lab" x="562" y="1877.48">TMA 1 mM</text>
<line x1="571.2" y1="1901.43" x2="588.7" y2="1901.43" stroke="#000" stroke-width="4.6"/>
<text class="lab" x="562" y="1910.23">TMA 10 µM</text>
<line x1="571.2" y1="1938.39" x2="588.7" y2="1938.39" stroke="#000" stroke-width="4.6"/>
<text class="lab" x="562" y="1946.39">cholic acid 100 µM</text>
<line x1="571.2" y1="1972.74" x2="588.7" y2="1972.74" stroke="#000" stroke-width="4.6"/>
<text class="lab" x="562" y="1981.54">cholic acid 10 µM</text>
<line x1="571.2" y1="2009.69" x2="588.7" y2="2009.69" stroke="#000" stroke-width="4.6"/>
<text class="lab" x="562" y="2018.49">deoxycholic acid 10 µM</text>
<line x1="571.2" y1="2044.05" x2="588.7" y2="2044.05" stroke="#000" stroke-width="4.6"/>
<text class="lab" x="562" y="2052.85">deoxycholic acid 1 µM</text>
<line x1="571.2" y1="2081" x2="588.7" y2="2081" stroke="#000" stroke-width="4.6"/>
<text class="lab" x="562" y="2089.8">ursodeoxycholic acid 100 µM</text>
<line x1="571.2" y1="2115.35" x2="588.7" y2="2115.35" stroke="#000" stroke-width="4.6"/>
<text class="lab" x="562" y="2124.15">ursodeoxycholic acid 10 µM</text>
<line x1="571.2" y1="2152.3" x2="588.7" y2="2152.3" stroke="#000" stroke-width="4.6"/>
<text class="lab" x="562" y="2161.1">taurodeoxycholate 1 mM</text>
<line x1="571.2" y1="2186.66" x2="588.7" y2="2186.66" stroke="#000" stroke-width="4.6"/>
<text class="lab" x="562" y="2195.46">taurodeoxycholate 10 µM</text>
<line x1="571.2" y1="2223.61" x2="588.7" y2="2223.61" stroke="#000" stroke-width="4.6"/>
<text class="lab" x="562" y="2232.41">propionic acid 1 mM</text>
<line x1="571.2" y1="2257.96" x2="588.7" y2="2257.96" stroke="#000" stroke-width="4.6"/>
<text class="lab" x="562" y="2266.76">propionic acid 10 µM</text>
<line x1="571.2" y1="2294.92" x2="588.7" y2="2294.92" stroke="#000" stroke-width="4.6"/>
<text class="lab" x="562" y="2303.72">butyric acid 1 mM</text>
<line x1="571.2" y1="2329.27" x2="588.7" y2="2329.27" stroke="#000" stroke-width="4.6"/>
<text class="lab" x="562" y="2338.07">butyric acid 10 µM</text>
<line x1="571.2" y1="2366.82" x2="588.7" y2="2366.82" stroke="#000" stroke-width="4.6"/>
<text class="lab" x="562" y="2377.22">valeric acid 1 mM</text>
<line x1="571.2" y1="2400.67" x2="588.7" y2="2400.67" stroke="#000" stroke-width="4.6"/>
<text class="lab" x="562" y="2410.27">valeric acid 10 µM</text>
<text class="star" transform="translate(822.25 710.04) scale(1.12 1)">*</text>
<text class="star" transform="translate(728.35 781.34) scale(1.12 1)">*</text>
<text class="star" transform="translate(728.35 959.61) scale(1.12 1)">**</text>
<text class="star" transform="translate(822.25 959.61) scale(1.12 1)">**</text>
<text class="star" transform="translate(916.15 959.61) scale(1.12 1)">*</text>
<text class="star" transform="translate(1010.05 959.61) scale(1.12 1)">*</text>
<text class="star" transform="translate(1103.95 959.61) scale(1.12 1)">*</text>
<text class="star" transform="translate(728.35 2100.5) scale(1.12 1)">*</text>
<path d="M1222.1 940.9H1172" fill="none" stroke="#000" stroke-width="6.1"/>
<path d="M1194.6 925L1170.4 940.9L1194.6 956.8" fill="none" stroke="#000" stroke-width="5.9" stroke-linejoin="miter" stroke-miterlimit="10"/>
<text transform="translate(636.7 2445.6) scale(1.04 1)" font-size="24.3" text-anchor="middle">basal</text>
<text transform="translate(636.7 2473.8) scale(1.04 1)" font-size="24.3" text-anchor="middle">OCR</text>
<text transform="translate(916.4 2446.6) scale(1.04 1)" font-size="24.3" text-anchor="middle">stressed</text>
<text transform="translate(916.4 2474.8) scale(1.04 1)" font-size="24.3" text-anchor="middle">OCR</text>
<defs><linearGradient id="cb" x1="0" y1="0" x2="0" y2="1"><stop offset="0" stop-color="#0808ff"/><stop offset="1" stop-color="#fff"/></linearGradient></defs>
<rect x="1178.9" y="529" width="39.8" height="235" rx="1.2" fill="url(#cb)" stroke="#000" stroke-width="4.3" stroke-linejoin="round"/>
<path d="M1180 596.5h5.6M1217.6 596.5h-5.6" stroke="#000" stroke-width="4.1" fill="none"/>
<path d="M1180 663.5h5.6M1217.6 663.5h-5.6" stroke="#000" stroke-width="4.1" fill="none"/>
<path d="M1180 730.7h5.6M1217.6 730.7h-5.6" stroke="#000" stroke-width="4.1" fill="none"/>
<text transform="translate(1232.2 543) scale(1.03 1)" font-size="31">4</text>
<text transform="translate(1232.2 609.8) scale(1.03 1)" font-size="31">3</text>
<text transform="translate(1232.2 674.8) scale(1.03 1)" font-size="31">2</text>
<text transform="translate(1232.2 741) scale(1.03 1)" font-size="31">1</text>
</g>
</svg></body></html>
